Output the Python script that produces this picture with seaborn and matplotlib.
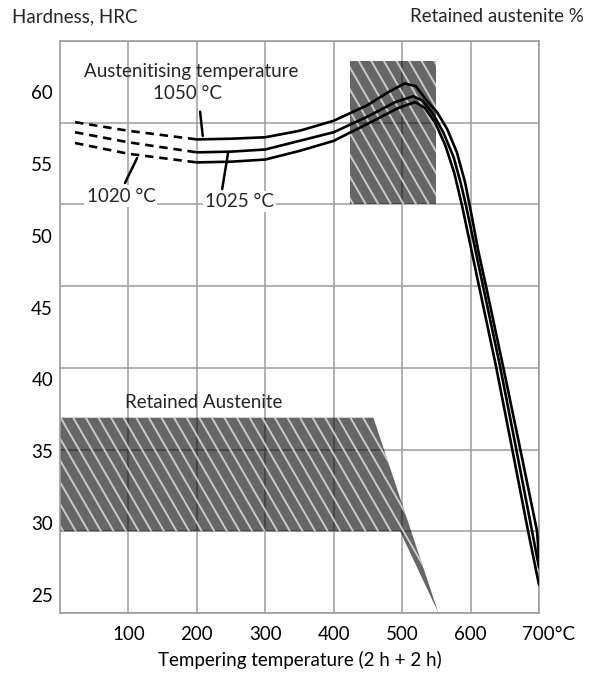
import matplotlib
matplotlib.use("Agg")
import matplotlib.pyplot as plt
import seaborn as sns
import pandas as pd
import numpy as np
from matplotlib.collections import LineCollection
from matplotlib.transforms import ScaledTranslation

# ---------------- data ----------------
# hardness curves (tempering temperature in degC, hardness HRC)
temp_1050 = [22, 100, 200, 250, 300, 350, 400, 450, 480, 504, 520, 536, 551, 566, 580, 592, 602, 611, 622.5, 647.4, 672.2, 697.1, 700]
hrc_1050 = [57.9, 57.3, 56.7, 56.75, 56.85, 57.3, 58.0, 59.1, 60.0, 60.6, 60.4, 59.4, 58.6, 57.4, 55.8, 53.7, 51.3, 49.0, 46.5, 40.93, 35.23, 29.45, 27.6]

temp_1025 = [22, 100, 200, 250, 300, 350, 400, 450, 490, 516, 530, 545, 560, 575, 586, 593.3, 618.2, 643, 666.4, 689.8, 700]
hrc_1025 = [57.2, 56.5, 55.8, 55.85, 56.0, 56.6, 57.2, 58.3, 59.3, 59.7, 59.4, 58.5, 57.2, 55.5, 53.6, 52.1, 46.5, 40.93, 35.23, 29.45, 26.9]

temp_1020 = [22, 100, 200, 250, 300, 350, 400, 450, 495, 519, 533, 548, 563, 576, 587.5, 612.3, 637.1, 660.5, 684, 700]
hrc_1020 = [56.45, 55.7, 55.1, 55.15, 55.3, 55.9, 56.6, 57.8, 58.9, 59.3, 58.9, 57.9, 56.3, 54.4, 52.1, 46.5, 40.93, 35.23, 29.45, 25.7]

dashed_until = 200  # curves are dashed below this temperature

# retained austenite band (right-hand scale, grid units)
ra_temp = [0, 458, 553, 497, 0]
ra_level = [2.39, 2.39, 0.0, 1.0, 1.0]

# hatched tempering zone (right-hand scale, grid units)
zone_temp = [424, 550, 550, 424]
zone_level = [5.0, 5.0, 6.76, 6.76]

x_ticks = [100, 200, 300, 400, 500, 600, 700]
x_tick_labels = ["100", "200", "300", "400", "500", "600", "700°C"]
hrc_ticks = [25, 30, 35, 40, 45, 50, 55, 60]

# ---------------- style ----------------
sns.set_theme(style="white")
plt.rcParams["font.family"] = ["Lato", "DejaVu Sans"]
FS = 13.5
GRID = "#9c9c9c"

fig = plt.figure(figsize=(5.92, 6.73), dpi=100)
AX_W, AX_H = 479, 572
ax = fig.add_axes([60 / 592, 1 - 613 / 673, AX_W / 592, AX_H / 673])

ax.set_xlim(0, 700)
ax.set_ylim(0, 7)
ax.set_xticks(x_ticks)
ax.set_xticklabels(x_tick_labels, fontsize=FS)
ax.set_yticks(range(0, 8))
ax.grid(True, color=GRID, lw=1.1)
ax.set_axisbelow(True)
ax.tick_params(left=False, bottom=False, labelleft=False, length=0, pad=9, colors="black")
for s in ax.spines.values():
    s.set_color(GRID)
    s.set_linewidth(1.2)

lab700 = ax.get_xticklabels()[-1]
lab700.set_horizontalalignment("left")
lab700.set_transform(lab700.get_transform() + ScaledTranslation(-17 / 100, 0, fig.dpi_scale_trans))


def hatched(xs, ys):
    patch = ax.fill(xs, ys, facecolor=(0, 0, 0, 0.6), lw=0, zorder=2)[0]
    # steep diagonal stripe texture, clipped to the patch
    step = 12.6 / AX_W
    shift = (AX_H / np.tan(np.radians(60))) / AX_W
    starts = np.arange(-shift - step, 1 + step, step)
    segs = [[(s0, 1.0), (s0 + shift, 0.0)] for s0 in starts]
    lc = LineCollection(segs, colors=[(0.86, 0.86, 0.86, 0.85)], linewidths=1.4,
                        transform=ax.transAxes, zorder=2.1)
    ax.add_collection(lc)
    lc.set_clip_path(patch)


hatched(ra_temp, ra_level)
hatched(zone_temp, zone_level)
ax.text(210, 2.58, "Retained Austenite", ha="center", va="center", fontsize=FS)

# hardness axis
axh = ax.twinx()
axh.set_ylim(23.74, 63.55)
axh.set_yticks(hrc_ticks)
axh.set_yticklabels([str(v) for v in hrc_ticks], fontsize=FS)
axh.yaxis.tick_left()
axh.tick_params(length=0, pad=5, colors="black")
axh.grid(False)
for s in axh.spines.values():
    s.set_visible(False)

for t, h in [(temp_1050, hrc_1050), (temp_1025, hrc_1025), (temp_1020, hrc_1020)]:
    df = pd.DataFrame({"temp": t, "hrc": h})
    dash = df[df["temp"] <= dashed_until]
    solid = df[df["temp"] >= dashed_until]
    sns.lineplot(data=dash, x="temp", y="hrc", ax=axh, color="black", lw=1.9,
                 linestyle=(0, (3.2, 2.2)), estimator=None, sort=False)
    sns.lineplot(data=solid, x="temp", y="hrc", ax=axh, color="black", lw=1.9,
                 estimator=None, sort=False)
axh.set_xlabel("")
axh.set_ylabel("")
ax.set_xlabel("Tempering temperature (2 h + 2 h)", fontsize=FS, labelpad=6, color="black")

bbox = dict(facecolor="white", edgecolor="none", pad=1.5)
axh.text(191, 61.4, "Austenitising temperature", ha="center", va="center", fontsize=FS)
axh.text(186, 59.9, "1050 °C", ha="center", va="center", fontsize=FS)
axh.text(89, 52.76, "1020 °C", ha="center", va="center", fontsize=FS, bbox=bbox)
axh.text(262, 52.35, "1025 °C", ha="center", va="center", fontsize=FS, bbox=bbox)

lead = dict(arrowstyle="-", color="black", lw=1.8, shrinkA=0, shrinkB=0)
axh.annotate("", xy=(208.6, 56.94), xytext=(204.7, 58.63), arrowprops=lead)
axh.annotate("", xy=(112.6, 55.4), xytext=(95, 53.67), arrowprops=lead)
axh.annotate("", xy=(245.6, 55.75), xytext=(237, 53.25), arrowprops=lead)

fig.text(12 / 592, 1 - 17 / 673, "Hardness, HRC", ha="left", va="center", fontsize=FS)
fig.text(584 / 592, 1 - 17 / 673, "Retained austenite %", ha="right", va="center", fontsize=FS)

fig.savefig("out.png", dpi=100)
